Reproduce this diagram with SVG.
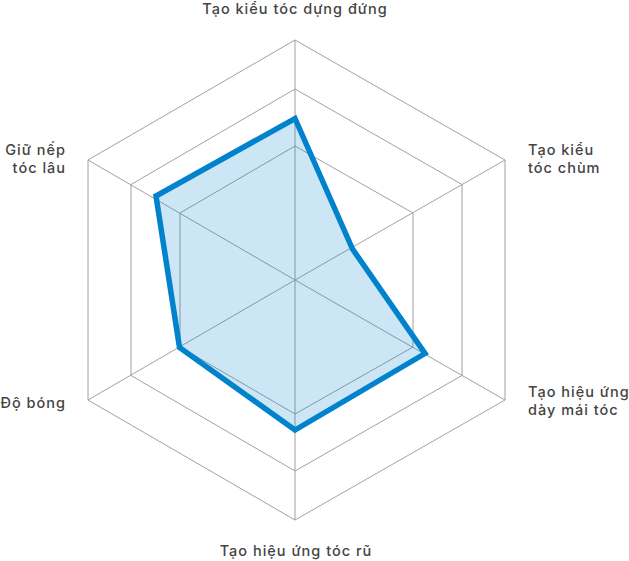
<svg xmlns="http://www.w3.org/2000/svg" width="629" height="561" viewBox="0 0 629 561">
<style>
.grid{fill:none;stroke:#a0a0a0;stroke-width:1}
.axis{stroke:#a0a0a0;stroke-width:1}
.data{fill:#0082cc;fill-opacity:0.2;stroke:#0082cc;stroke-width:5.5;stroke-linejoin:miter}
.lbl{font-family:Inter,"Noto Sans",sans-serif;font-size:14.5px;font-weight:500;fill:#444;letter-spacing:1px}
</style>
<rect width="629" height="561" fill="#fff"/>
<g id="grid">
<polygon class="grid" points="295,40 505,160 505,400 295,520 88,400 88,160"/>
<polygon class="grid" points="295,89 462,184.5 462,375.5 295,471 131,375.5 131,184.5"/>
<polygon class="grid" points="295,146 413,213 413,347 295,414 180,347 180,213"/>
</g>
<g id="connectors">
<line class="axis" x1="295" y1="280" x2="295" y2="40"/>
<line class="axis" x1="295" y1="280" x2="505" y2="160"/>
<line class="axis" x1="295" y1="280" x2="505" y2="400"/>
<line class="axis" x1="295" y1="280" x2="295" y2="520"/>
<line class="axis" x1="295" y1="280" x2="88" y2="400"/>
<line class="axis" x1="295" y1="280" x2="88" y2="160"/>
</g>
<g id="series">
<polygon class="data" points="295,118.5 352.5,249 425,353.5 295,430 179.5,347.5 156,196"/>
</g>
<g id="label-top"><text class="lbl" x="295" y="14" text-anchor="middle">Tạo kiểu tóc dựng đứng</text></g>
<g id="label-upper-right"><text class="lbl" x="528" y="155">Tạo kiểu</text><text class="lbl" x="528" y="173">tóc chùm</text></g>
<g id="label-lower-right"><text class="lbl" x="528" y="397">Tạo hiệu ứng</text><text class="lbl" x="528" y="415">dày mái tóc</text></g>
<g id="label-bottom"><text class="lbl" x="296" y="556" text-anchor="middle">Tạo hiệu ứng tóc rũ</text></g>
<g id="label-lower-left"><text class="lbl" x="66" y="408" text-anchor="end">Độ bóng</text></g>
<g id="label-upper-left"><text class="lbl" x="66" y="155" text-anchor="end">Giữ nếp</text><text class="lbl" x="66" y="173" text-anchor="end">tóc lâu</text></g>
</svg>
